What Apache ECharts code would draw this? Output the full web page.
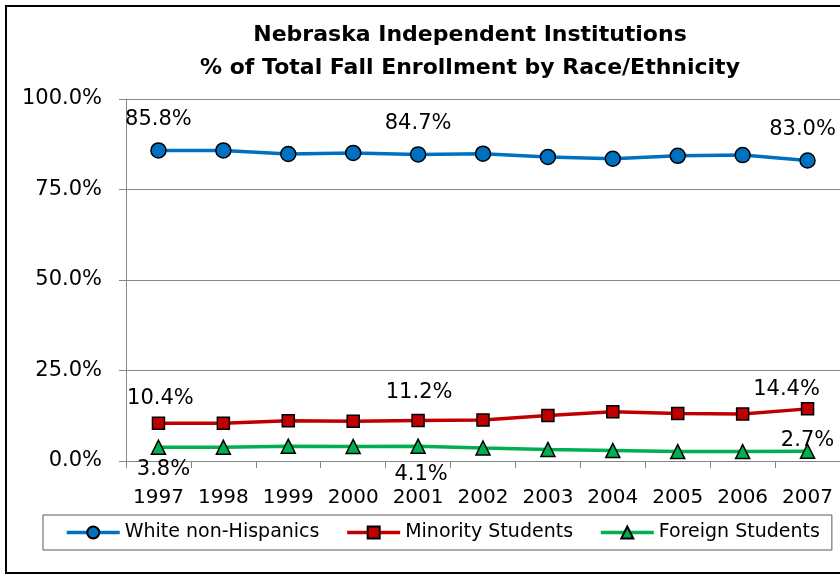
<!DOCTYPE html>
<html>
<head>
<meta charset="utf-8">
<script src="https://cdn.jsdelivr.net/npm/echarts@6/dist/echarts.min.js"></script>
<style>
  html, body { margin: 0; padding: 0; background: #fff; }
  #chart { width: 840px; height: 575px; }
</style>
</head>
<body>
<div id="chart"></div>
<script>
// data
const years = ['1997', '1998', '1999', '2000', '2001', '2002', '2003', '2004', '2005', '2006', '2007']
const whiteNonHispanics = [85.8, 85.8, 84.8, 85.1, 84.7, 84.9, 84.0, 83.5, 84.3, 84.5, 83.0]
const minorityStudents = [10.4, 10.4, 11.1, 11.0, 11.2, 11.3, 12.6, 13.6, 13.1, 13.0, 14.4]
const foreignStudents = [3.8, 3.8, 4.1, 4.0, 4.1, 3.6, 3.2, 2.9, 2.6, 2.6, 2.7]
const seriesNames = ['White non-Hispanics', 'Minority Students', 'Foreign Students']

const FONT = 'DejaVu Sans'

// only a few points carry a value label, each nudged like in the original
function withLabels(values, offsets) {
  return values.map((v, i) => {
    if (!offsets[i]) return v
    return { value: v, label: { show: true, offset: offsets[i] } }
  })
}

const pctLabel = {
  show: false,
  position: 'inside',
  fontFamily: FONT,
  fontSize: 21,
  color: '#000',
  formatter: p => p.value.toFixed(1) + '%'
}

function lineSeries(name, data, color, symbol, size) {
  return {
    name: name,
    type: 'line',
    data: data,
    symbol: symbol,
    symbolSize: size,
    showAllSymbol: true,
    lineStyle: { color: color, width: 3.5 },
    itemStyle: { color: color, borderColor: '#000', borderWidth: 1.5 },
    label: pctLabel,
    emphasis: { disabled: true },
    animation: false
  }
}

const chart = echarts.init(document.getElementById('chart'))

chart.setOption({
  backgroundColor: '#fff',
  title: {
    text: 'Nebraska Independent Institutions\n% of Total Fall Enrollment by Race/Ethnicity',
    left: 470,
    top: 19,
    textAlign: 'center',
    padding: 0,
    textStyle: {
      fontFamily: FONT,
      fontWeight: 'bold',
      fontSize: 22,
      lineHeight: 33,
      color: '#000'
    }
  },
  // chart frame
  graphic: [{
    type: 'rect',
    shape: { x: 6, y: 6, width: 860, height: 567 },
    style: { fill: 'none', stroke: '#000', lineWidth: 2 },
    silent: true
  }],
  legend: {
    data: seriesNames,
    left: 43,
    top: 515,
    padding: [8, 12, 8, 22],
    itemGap: 26,
    itemWidth: 53,
    itemHeight: 15,
    borderColor: '#595959',
    borderWidth: 1,
    lineStyle: { width: 3.5 },
    textStyle: { fontFamily: FONT, fontSize: 19, color: '#000' }
  },
  grid: {
    left: 126,
    top: 99,
    width: 717,
    height: 362,
    containLabel: false
  },
  xAxis: {
    type: 'category',
    data: years,
    boundaryGap: true,
    axisLine: { lineStyle: { color: '#868686', width: 1 } },
    axisTick: { show: true, length: 7, interval: 0, lineStyle: { color: '#868686' } },
    axisLabel: { interval: 0, margin: 27, fontFamily: FONT, fontSize: 20, color: '#000' }
  },
  yAxis: {
    type: 'value',
    min: 0,
    max: 100,
    interval: 25,
    axisLine: { show: true, lineStyle: { color: '#868686', width: 1 } },
    axisTick: { show: true, length: 7, lineStyle: { color: '#868686' } },
    axisLabel: {
      margin: 24,
      fontFamily: FONT,
      fontSize: 21,
      color: '#000',
      formatter: v => v.toFixed(1) + '%'
    },
    splitLine: { show: true, lineStyle: { color: '#868686', width: 1 } }
  },
  series: [
    lineSeries(seriesNames[0],
      withLabels(whiteNonHispanics, { 0: [0, -31], 4: [0, -31], 10: [-5, -31] }),
      '#0070C0', 'circle', 15),
    lineSeries(seriesNames[1],
      withLabels(minorityStudents, { 0: [2, -25], 4: [1, -28], 10: [-21, -19] }),
      '#C00000', 'rect', 12),
    lineSeries(seriesNames[2],
      withLabels(foreignStudents, { 0: [5, 22], 4: [3, 28], 10: [0, -11] }),
      '#00B050', 'triangle', 14)
  ]
})
</script>
</body>
</html>
